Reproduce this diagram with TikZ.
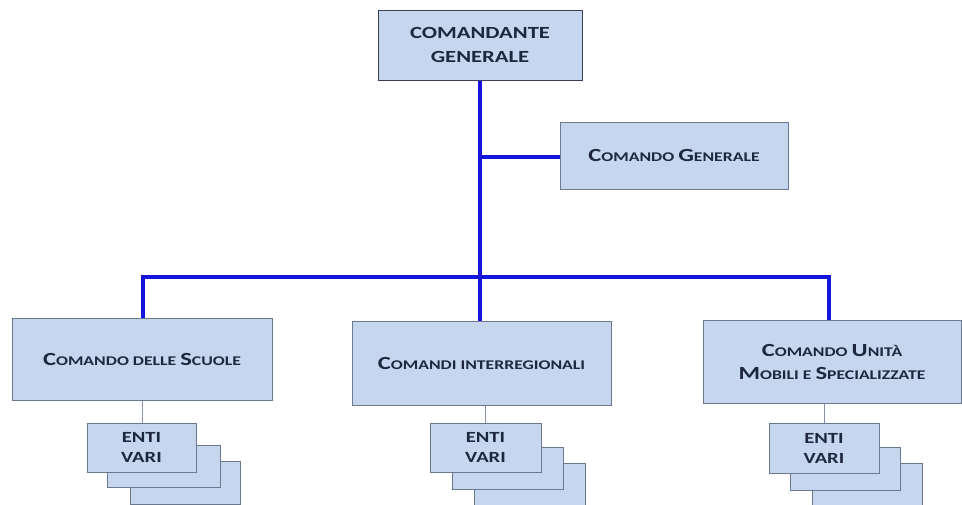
\documentclass[tikz,border=0pt]{standalone}
\usepackage{fontspec}
\newfontfamily\cf[FakeStretch=1.33]{Carlito}
\newcommand\Bg[1]{{\fontsize{18.5}{22}\selectfont #1}}
\newcommand\Sm[1]{{\fontsize{13.3}{22}\selectfont #1}}
\definecolor{boxfill}{HTML}{C6D6EF}
\definecolor{boxline}{HTML}{6A7890}
\definecolor{topline}{HTML}{3A3F5C}
\definecolor{txt}{HTML}{1E2740}
\definecolor{linkblue}{HTML}{1414DC}
\tikzset{
  orgbox/.style={draw=boxline, line width=1pt, fill=boxfill, inner sep=0pt, align=center, text=txt, font=\cf\bfseries\fontsize{13.3}{23}\selectfont},
  entibox/.style={orgbox, minimum width=110pt, font=\cf\bfseries\fontsize{15.5}{20}\selectfont},
  bluelink/.style={draw=linkblue, line width=4pt},
  thinlink/.style={draw=boxline!80, line width=0.8pt}
}
\begin{document}
\begin{tikzpicture}[x=1pt,y=-1pt]
\useasboundingbox (0,0) rectangle (962,504);
\clip (0,0) rectangle (962,504);
% coordinates
\coordinate (j1) at (480,157);
\coordinate (bl) at (143,277);
\coordinate (bm) at (480,277);
\coordinate (br) at (829,277);
% main boxes
\node[orgbox, draw=topline, minimum width=204pt, minimum height=70pt, font=\cf\bfseries\fontsize{17}{24}\selectfont] (top) at (480,45) {COMANDANTE\\GENERALE};
\node[orgbox, minimum width=228pt, minimum height=67pt] (cg) at (674,155.5) {\Bg{C}\Sm{OMANDO }\Bg{G}\Sm{ENERALE}};
\node[orgbox, minimum width=260pt, minimum height=82pt] (left) at (142,359) {\Bg{C}\Sm{OMANDO DELLE }\Bg{S}\Sm{CUOLE}};
\node[orgbox, minimum width=259pt, minimum height=84pt] (mid) at (481.5,363) {\Bg{C}\Sm{OMANDI INTERREGIONALI}};
\node[orgbox, minimum width=258pt, minimum height=83pt] (right) at (832,361.5) {\Bg{C}\Sm{OMANDO }\Bg{U}\Sm{NITÀ}\\\Bg{M}\Sm{OBILI E }\Bg{S}\Sm{PECIALIZZATE}};
% blue links
\draw[bluelink] (top.south) -- (bm);
\draw[bluelink] (j1) -- (j1 -| cg.west);
\draw[bluelink, line cap=rect] (bl) -- (br);
\draw[bluelink] (bl) -- (bl |- left.north);
\draw[bluelink] (bm) -- (mid.north -| bm);
\draw[bluelink] (br) -- (br |- right.north);
% enti stacks left
\node[entibox, minimum height=43pt] (e1c) at (185,483) {};
\node[entibox, minimum width=113pt, minimum height=42pt] (e1b) at (163.5,466.5) {};
\node[entibox, minimum width=109pt, minimum height=49pt] (e1a) at (141.5,447.5) {ENTI\\VARI};
% middle
\node[entibox, minimum width=111pt, minimum height=42pt] (e2c) at (529.5,484) {};
\node[entibox, minimum width=111pt, minimum height=42pt] (e2b) at (507.5,468) {};
\node[entibox, minimum width=111pt, minimum height=49pt] (e2a) at (485.5,447.5) {ENTI\\VARI};
% right
\node[entibox, minimum height=42pt] (e3c) at (867,484) {};
\node[entibox, minimum height=43pt] (e3b) at (845,468.5) {};
\node[entibox, minimum height=50pt] (e3a) at (824,448) {ENTI\\VARI};
% thin links
\draw[thinlink] (left.south) -- (left.south |- e1a.north);
\draw[thinlink] (e2a.north |- mid.south) -- (e2a.north);
\draw[thinlink] (e3a.north |- right.south) -- (e3a.north);
\end{tikzpicture}
\end{document}
